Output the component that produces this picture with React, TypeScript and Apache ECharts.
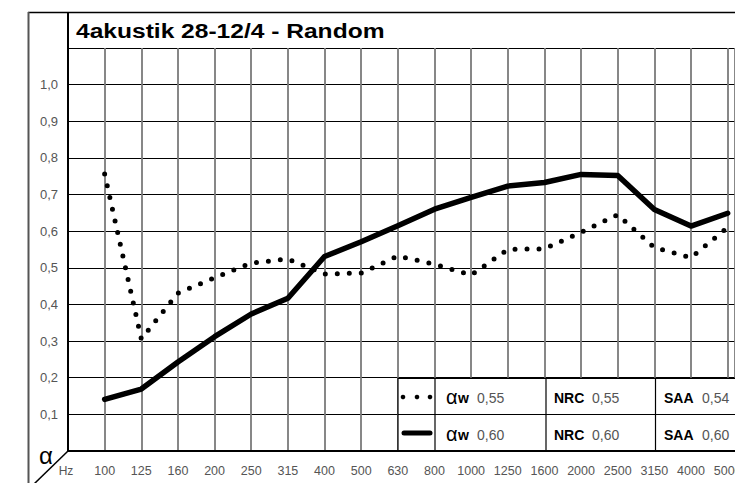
import React, { useEffect, useRef } from "react";
import * as echarts from "echarts";

const titleText = "4akustik 28-12/4 - Random";
const freqLabels = ["100", "125", "160", "200", "250", "315", "400", "500", "630", "800", "1000", "1250", "1600", "2000", "2500", "3150", "4000", "5000"];
const dottedValues = [0.756, 0.306, 0.431, 0.473, 0.513, 0.524, 0.483, 0.486, 0.532, 0.51, 0.48, 0.55, 0.552, 0.597, 0.645, 0.555, 0.528, 0.61];
const solidValues = [0.141, 0.169, 0.243, 0.312, 0.374, 0.417, 0.531, 0.571, 0.615, 0.66, 0.692, 0.723, 0.733, 0.755, 0.752, 0.659, 0.614, 0.649];
const awValues = ["0,55", "0,60"];
const nrcValues = ["0,55", "0,60"];
const saaValues = ["0,54", "0,60"];

const FONT = "Liberation Sans, Arial, sans-serif";

export default function App() {
  const ref = useRef<HTMLDivElement>(null);
  useEffect(() => {
    if (!ref.current) return;
    const chart = echarts.init(ref.current, null, { renderer: "svg" });
    const rowY = [397, 434];
    const legendTexts: any[] = [];
    rowY.forEach((y, i) => {
      legendTexts.push(
        { type: "text", z: 20, x: 446, y: y, style: { text: "α", font: `20px ${FONT}`, fill: "#000", verticalAlign: "middle" } },
        { type: "text", z: 20, x: 458, y: y + 1, style: { text: "w", font: `bold 14px ${FONT}`, fill: "#000", verticalAlign: "middle" } },
        { type: "text", z: 20, x: 477, y: y + 1, style: { text: awValues[i], font: `14px ${FONT}`, fill: "#555", verticalAlign: "middle" } },
        { type: "text", z: 20, x: 554, y: y + 1, style: { text: "NRC", font: `bold 14px ${FONT}`, fill: "#000", verticalAlign: "middle" } },
        { type: "text", z: 20, x: 592, y: y + 1, style: { text: nrcValues[i], font: `14px ${FONT}`, fill: "#555", verticalAlign: "middle" } },
        { type: "text", z: 20, x: 664, y: y + 1, style: { text: "SAA", font: `bold 14px ${FONT}`, fill: "#000", verticalAlign: "middle" } },
        { type: "text", z: 20, x: 702, y: y + 1, style: { text: saaValues[i], font: `14px ${FONT}`, fill: "#555", verticalAlign: "middle" } }
      );
    });
    const option: any = {
      animation: false,
      backgroundColor: "#fff",
      grid: { left: 68, right: 0, top: 48, bottom: 32, containLabel: false, outerBoundsMode: "none" },
      xAxis: {
        type: "value",
        min: -1,
        max: 17.2,
        interval: 1,
        axisLine: { show: false, onZero: false },
        axisTick: { show: false },
        splitLine: { show: true, lineStyle: { color: "#7a7a7a", width: 1.8 } },
        axisLabel: {
          margin: 13,
          color: "#555",
          fontSize: 12.5,
          fontFamily: FONT,
          formatter: (v: number) => {
            const i = Math.round(v);
            if (Math.abs(v - i) > 1e-6 || i < 0 || i >= freqLabels.length) return "";
            return freqLabels[i];
          },
        },
      },
      yAxis: {
        type: "value",
        min: 0,
        max: 1.1,
        interval: 0.1,
        axisLine: { show: true, onZero: false, lineStyle: { color: "#000", width: 2 } },
        axisTick: { show: false },
        splitLine: { show: true, lineStyle: { color: "#000", width: 1.2 } },
        axisLabel: {
          margin: 10,
          color: "#555",
          fontSize: 13,
          fontFamily: FONT,
          formatter: (v: number) => {
            const r = Math.round(v * 10) / 10;
            if (r <= 0 || r > 1.05) return "";
            return r.toFixed(1).replace(".", ",");
          },
        },
      },
      series: [
        {
          type: "line",
          data: solidValues.map((v, i) => [i, v]),
          symbol: "none",
          lineStyle: { color: "#000", width: 5.5, join: "round", cap: "round" },
          z: 5,
        },
        {
          type: "line",
          data: dottedValues.map((v, i) => [i, v]),
          symbol: "none",
          lineStyle: { color: "#000", width: 5, type: [0, 12], cap: "round", join: "round" },
          z: 4,
        },
      ],
      graphic: [
        { type: "line", z: 10, shape: { x1: 28, y1: 12.5, x2: 735, y2: 12.5 }, style: { stroke: "#000", lineWidth: 1.5 } },
        { type: "line", z: 10, shape: { x1: 28.5, y1: 12, x2: 28.5, y2: 483 }, style: { stroke: "#555", lineWidth: 2 } },
        { type: "line", z: 10, shape: { x1: 68, y1: 12, x2: 68, y2: 48 }, style: { stroke: "#000", lineWidth: 2 } },
        { type: "line", z: 10, shape: { x1: 68, y1: 451, x2: 735, y2: 451 }, style: { stroke: "#000", lineWidth: 2 } },
        { type: "line", z: 10, shape: { x1: 68, y1: 451, x2: 34, y2: 484 }, style: { stroke: "#000", lineWidth: 1.5 } },
        {
          type: "text", z: 10, x: 76, y: 30.5, scaleX: 1.17,
          style: { text: titleText, font: `bold 21px ${FONT}`, fill: "#000", verticalAlign: "middle" },
        },
        { type: "text", z: 10, x: 46, y: 455, style: { text: "α", font: `24px ${FONT}`, fill: "#000", align: "center", verticalAlign: "middle" } },
        { type: "text", z: 10, x: 66, y: 471, style: { text: "Hz", font: `12px ${FONT}`, fill: "#555", align: "center", verticalAlign: "middle" } },
        { type: "rect", z: 15, shape: { x: 398, y: 378.3, width: 340, height: 72.7 }, style: { fill: "#fff", stroke: "#000", lineWidth: 1.2 } },
        { type: "line", z: 16, shape: { x1: 398, y1: 414.5, x2: 735, y2: 414.5 }, style: { stroke: "#000", lineWidth: 1.2 } },
        { type: "line", z: 16, shape: { x1: 435, y1: 378, x2: 435, y2: 451 }, style: { stroke: "#000", lineWidth: 1.2 } },
        { type: "line", z: 16, shape: { x1: 546, y1: 378, x2: 546, y2: 451 }, style: { stroke: "#000", lineWidth: 1.2 } },
        { type: "line", z: 16, shape: { x1: 655.5, y1: 378, x2: 655.5, y2: 451 }, style: { stroke: "#000", lineWidth: 1.2 } },
        { type: "line", z: 16, shape: { x1: 398, y1: 451, x2: 735, y2: 451 }, style: { stroke: "#000", lineWidth: 2 } },
        { type: "circle", z: 20, shape: { cx: 403, cy: 397, r: 2.3 }, style: { fill: "#000" } },
        { type: "circle", z: 20, shape: { cx: 417, cy: 397, r: 2.3 }, style: { fill: "#000" } },
        { type: "circle", z: 20, shape: { cx: 430, cy: 397, r: 2.3 }, style: { fill: "#000" } },
        { type: "line", z: 20, shape: { x1: 404, y1: 433, x2: 430, y2: 433 }, style: { stroke: "#000", lineWidth: 5, lineCap: "round" } },
        ...legendTexts,
      ],
    };
    chart.setOption(option);
    return () => chart.dispose();
  }, []);
  return <div ref={ref} style={{ position: "fixed", left: 0, top: 0, width: 735, height: 483 }} />;
}
